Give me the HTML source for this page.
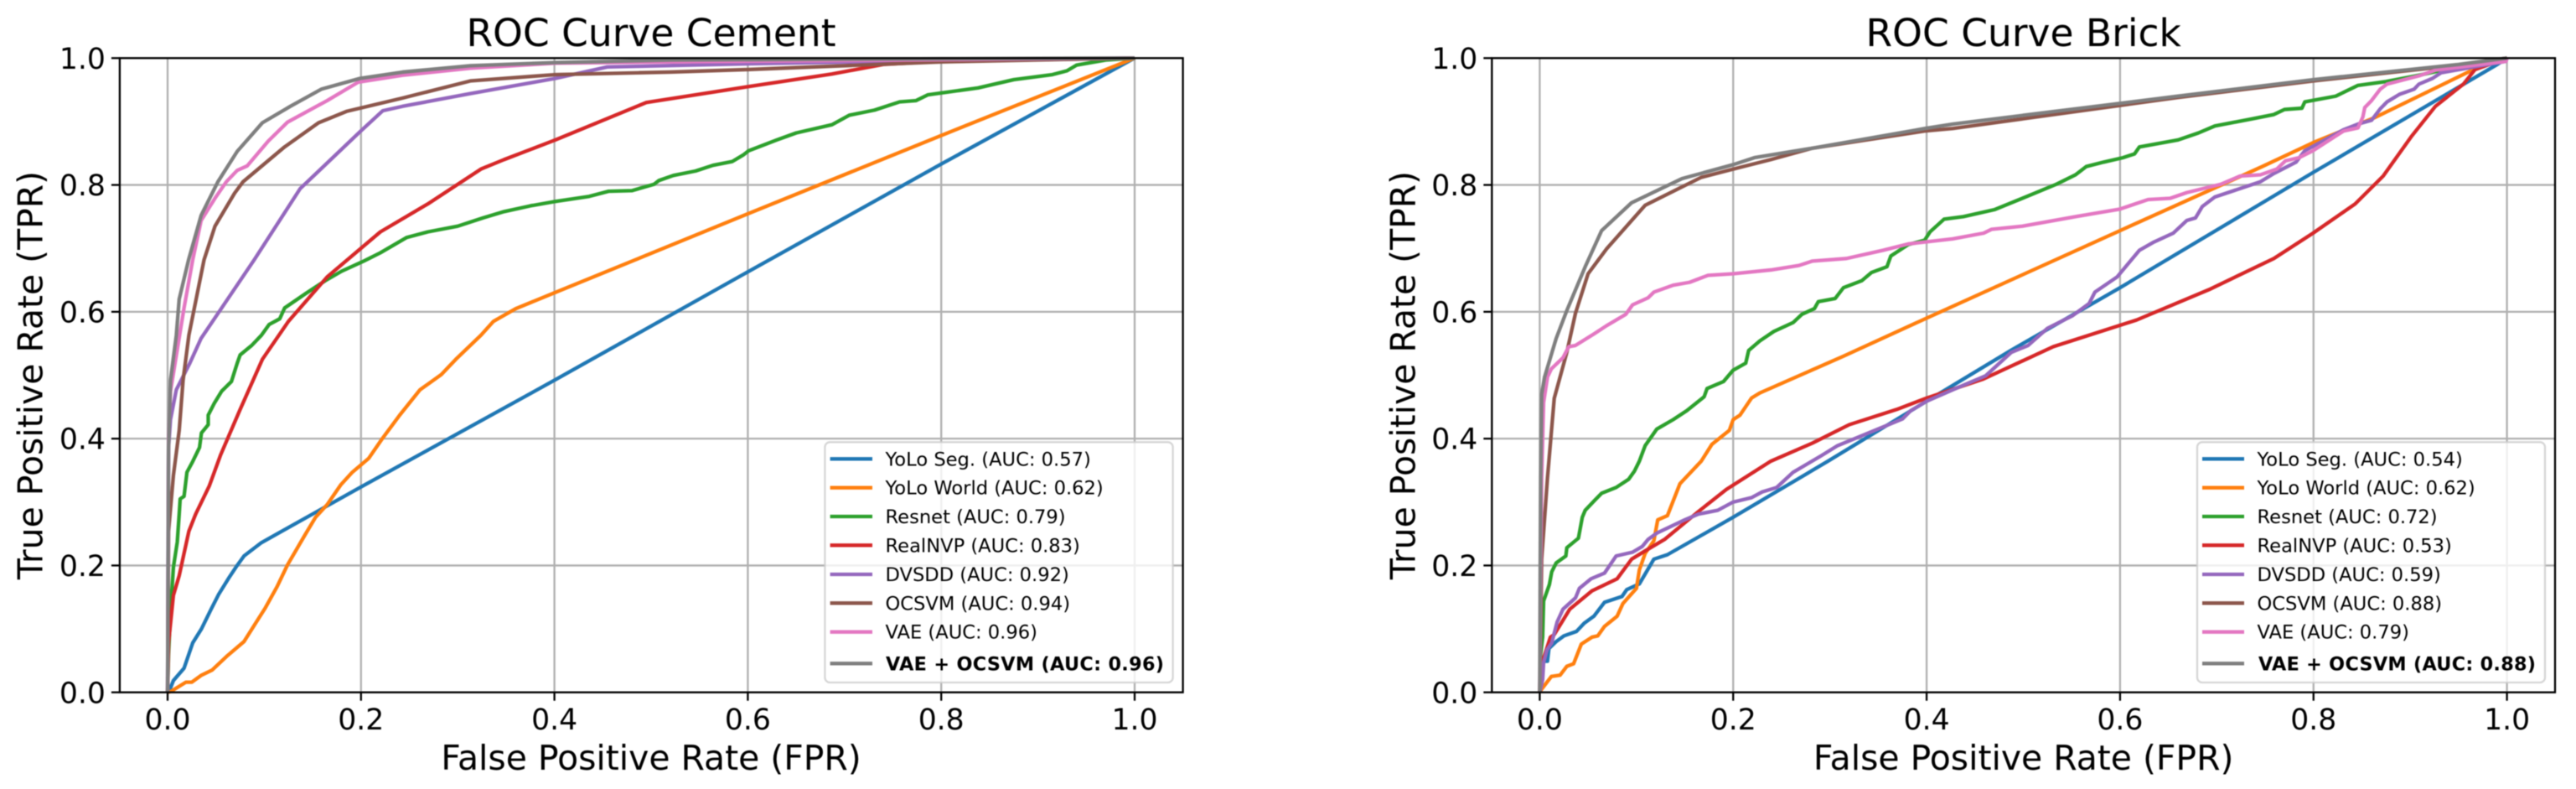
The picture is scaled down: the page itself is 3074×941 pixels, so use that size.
<!DOCTYPE html>
<html lang="en">
<head>
<meta charset="utf-8">
<title>ROC Curves: Cement and Brick</title>
<style>
  html, body { margin: 0; padding: 0; background: #fff; }
  svg { display: block; filter: blur(0.55px); }
  text { font-family: "DejaVu Sans", "Liberation Sans", sans-serif; fill: #000; }
  .title { font-size: 45.5px; text-anchor: middle; }
  .axis-label { font-size: 40.9px; text-anchor: middle; }
  .tick-label { font-size: 34.6px; }
  .legend-text { font-size: 22.6px; }
  .legend-bold { font-size: 22.3px; font-weight: bold; }
  .legend-frame { fill: rgba(255,255,255,0.8); stroke: rgba(204,204,204,0.8); stroke-width: 2.3; }
  .legend-line { stroke-width: 4.3; fill: none; }
</style>
</head>
<body>
<svg id="figure" xmlns="http://www.w3.org/2000/svg" width="3074" height="941" viewBox="0 0 3074 941">
  <rect x="0" y="0" width="3074" height="941" fill="#fff"/>

  <g id="cement-panel">
    <g id="cement-grid"></g>
    <g id="cement-curves"></g>
    <g id="cement-axes"></g>
    <text class="title" x="777" y="55">ROC Curve Cement</text>
    <text class="axis-label" x="777" y="918">False Positive Rate (FPR)</text>
    <text class="axis-label" transform="translate(50.5 447.5) rotate(-90)">True Positive Rate (TPR)</text>
    <g>
      <rect class="legend-frame" x="984.4" y="527.3" width="415.2" height="286.7" rx="6"/>
      <line class="legend-line" x1="990.6" x2="1041" y1="547.3" y2="547.3" stroke="#1f77b4"/>
      <text class="legend-text" x="1056.5" y="555.3">YoLo Seg. (AUC: 0.57)</text>
      <line class="legend-line" x1="990.6" x2="1041" y1="581.7" y2="581.7" stroke="#ff7f0e"/>
      <text class="legend-text" x="1056.5" y="589.7">YoLo World (AUC: 0.62)</text>
      <line class="legend-line" x1="990.6" x2="1041" y1="616" y2="616" stroke="#2ca02c"/>
      <text class="legend-text" x="1056.5" y="624">Resnet (AUC: 0.79)</text>
      <line class="legend-line" x1="990.6" x2="1041" y1="650.3" y2="650.3" stroke="#d62728"/>
      <text class="legend-text" x="1056.5" y="658.3">RealNVP (AUC: 0.83)</text>
      <line class="legend-line" x1="990.6" x2="1041" y1="685" y2="685" stroke="#9467bd"/>
      <text class="legend-text" x="1056.5" y="693">DVSDD (AUC: 0.92)</text>
      <line class="legend-line" x1="990.6" x2="1041" y1="719.3" y2="719.3" stroke="#8c564b"/>
      <text class="legend-text" x="1056.5" y="727.3">OCSVM (AUC: 0.94)</text>
      <line class="legend-line" x1="990.6" x2="1041" y1="753.7" y2="753.7" stroke="#e377c2"/>
      <text class="legend-text" x="1056.5" y="761.7">VAE (AUC: 0.96)</text>
      <line class="legend-line" x1="990.6" x2="1041" y1="791.3" y2="791.3" stroke="#7f7f7f"/>
      <text class="legend-bold" x="1057" y="799.3" textLength="332" lengthAdjust="spacing">VAE + OCSVM (AUC: 0.96)</text>
    </g>
  </g>

  <g id="brick-panel">
    <g id="brick-grid"></g>
    <g id="brick-curves"></g>
    <g id="brick-axes"></g>
    <text class="title" x="2414.7" y="55">ROC Curve Brick</text>
    <text class="axis-label" x="2414.7" y="918">False Positive Rate (FPR)</text>
    <text class="axis-label" transform="translate(1688.5 447.5) rotate(-90)">True Positive Rate (TPR)</text>
    <g>
      <rect class="legend-frame" x="2622" y="527.3" width="415" height="286.7" rx="6"/>
      <line class="legend-line" x1="2628" x2="2678" y1="547.3" y2="547.3" stroke="#1f77b4"/>
      <text class="legend-text" x="2693.5" y="555.3">YoLo Seg. (AUC: 0.54)</text>
      <line class="legend-line" x1="2628" x2="2678" y1="581.7" y2="581.7" stroke="#ff7f0e"/>
      <text class="legend-text" x="2693.5" y="589.7">YoLo World (AUC: 0.62)</text>
      <line class="legend-line" x1="2628" x2="2678" y1="616" y2="616" stroke="#2ca02c"/>
      <text class="legend-text" x="2693.5" y="624">Resnet (AUC: 0.72)</text>
      <line class="legend-line" x1="2628" x2="2678" y1="650.3" y2="650.3" stroke="#d62728"/>
      <text class="legend-text" x="2693.5" y="658.3">RealNVP (AUC: 0.53)</text>
      <line class="legend-line" x1="2628" x2="2678" y1="685" y2="685" stroke="#9467bd"/>
      <text class="legend-text" x="2693.5" y="693">DVSDD (AUC: 0.59)</text>
      <line class="legend-line" x1="2628" x2="2678" y1="719.3" y2="719.3" stroke="#8c564b"/>
      <text class="legend-text" x="2693.5" y="727.3">OCSVM (AUC: 0.88)</text>
      <line class="legend-line" x1="2628" x2="2678" y1="753.7" y2="753.7" stroke="#e377c2"/>
      <text class="legend-text" x="2693.5" y="761.7">VAE (AUC: 0.79)</text>
      <line class="legend-line" x1="2628" x2="2678" y1="791.3" y2="791.3" stroke="#7f7f7f"/>
      <text class="legend-bold" x="2695" y="799.3" textLength="331" lengthAdjust="spacing">VAE + OCSVM (AUC: 0.88)</text>
    </g>
  </g>
</svg>

<script>
// Tick values and labels
const tickValues = [0, 0.2, 0.4, 0.6, 0.8, 1];
const tickLabels = ['0.0', '0.2', '0.4', '0.6', '0.8', '1.0'];

// Method keys, in drawing order
const methods = ['yolo-seg', 'yolo-world', 'resnet', 'realnvp', 'dvsdd', 'ocsvm', 'vae', 'vae-ocsvm'];

// Cement ROC curves: [FPR, TPR]
const cementYoloSeg = [[0,0],[.002,.003],[.006,.0185],[.017,.038],[.026,.078],[.035,.1],[.045,.131],[.053,.155],[.064,.182],[.071,.198],[.079,.215],[.097,.236],[.199,.323],[.4,.492],[.6,.663],[.8,.833],[1,1]];
const cementYoloWorld = [[0,0],[.003,.001],[.019,.016],[.025,.016],[.035,.027],[.046,.035],[.062,.058],[.079,.08],[.091,.109],[.101,.133],[.113,.166],[.124,.201],[.142,.248],[.153,.276],[.165,.296],[.179,.327],[.191,.347],[.208,.369],[.222,.4],[.24,.437],[.261,.477],[.283,.501],[.298,.525],[.324,.563],[.337,.585],[.36,.605],[.3986,.629],[.6,.7545],[.8,.878],[.99,.994],[1,1]];
const cementResnet = [[0,0],[.001,.06],[.003,.126],[.006,.197],[.01,.237],[.012,.281],[.013,.305],[.017,.309],[.02,.347],[.026,.364],[.033,.386],[.035,.409],[.042,.422],[.042,.437],[.048,.455],[.056,.475],[.066,.49],[.072,.519],[.075,.532],[.087,.547],[.097,.563],[.105,.58],[.116,.589],[.121,.606],[.143,.629],[.163,.649],[.18,.664],[.203,.68],[.22,.693],[.247,.717],[.269,.726],[.3,.735],[.326,.748],[.348,.758],[.375,.767],[.401,.774],[.436,.782],[.456,.79],[.48,.791],[.503,.801],[.508,.807],[.523,.815],[.546,.822],[.564,.831],[.584,.837],[.595,.847],[.601,.854],[.63,.871],[.65,.882],[.687,.895],[.705,.91],[.731,.918],[.757,.931],[.774,.933],[.786,.942],[.8,.945],[.838,.953],[.875,.966],[.915,.974],[.93,.98],[.94,.989],[.97,.997],[.99,.999],[1,1]];
const cementRealNvp = [[0,0],[.001,.078],[.006,.153],[.012,.184],[.022,.254],[.029,.281],[.043,.325],[.055,.375],[.075,.446],[.098,.525],[.125,.585],[.165,.655],[.22,.726],[.269,.77],[.324,.825],[.348,.84],[.401,.871],[.495,.93],[.6,.955],[.687,.975],[.74,.99],[.8,.995],[1,1]];
const cementDvsdd = [[0,0],[.0005,.25],[.001,.386],[.003,.43],[.009,.477],[.023,.519],[.0346,.558],[.0896,.682],[.137,.794],[.199,.884],[.2225,.917],[.243,.924],[.313,.944],[.401,.968],[.4546,.986],[.6,.991],[.745,.995],[1,1]];
const cementOcsvm = [[0,0],[.0005,.1],[.001,.254],[.006,.342],[.012,.413],[.016,.492],[.022,.563],[.0377,.682],[.049,.735],[.0693,.787],[.078,.805],[.121,.86],[.156,.898],[.185,.916],[.243,.937],[.313,.964],[.401,.974],[.52,.978],[.6,.982],[.8,.994],[1,1]];
const cementVae = [[0,0],[.0005,.2],[.001,.4],[.003,.4746],[.017,.606],[.026,.682],[.0347,.744],[.049,.779],[.0607,.805],[.072,.823],[.0823,.83],[.104,.869],[.124,.899],[.165,.933],[.197,.962],[.243,.973],[.313,.984],[.401,.992],[.52,.994],[1,1]];
const cementVaeOcsvm = [[0,0],[.0005,.2],[.001,.386],[.003,.492],[.009,.563],[.012,.62],[.0217,.682],[.0347,.752],[.052,.805],[.072,.853],[.098,.898],[.127,.924],[.159,.951],[.199,.968],[.243,.978],[.313,.988],[.401,.993],[.52,.997],[.8,.999],[1,1]];

// Brick ROC curves: [FPR, TPR]
const brickYoloSeg = [[0,0],[.0005,.003],[.002,.049],[.008,.049],[.0095,.069],[.017,.08],[.025,.089],[.038,.096],[.046,.109],[.056,.12],[.067,.142],[.085,.151],[.09,.162],[.103,.171],[.118,.21],[.132,.217],[.2,.276],[.298,.3645],[.4,.459],[.487,.539],[.6,.638],[.8,.82],[.99,.99],[1,1]];
const brickYoloWorld = [[0,0],[.002,.005],[.012,.025],[.021,.027],[.028,.041],[.035,.045],[.043,.076],[.054,.087],[.06,.089],[.067,.104],[.08,.12],[.086,.14],[.1,.164],[.103,.193],[.109,.219],[.118,.239],[.122,.272],[.132,.2785],[.145,.329],[.167,.3645],[.178,.391],[.196,.413],[.2,.43],[.207,.437],[.219,.464],[.2275,.472],[.314,.53],[.4,.59],[.6,.728],[.747,.829],[.8,.867],[.863,.906],[.964,.981],[1,1]];
const brickResnet = [[0,0],[.001,.06],[.003,.087],[.004,.144],[.01,.17],[.0124,.19],[.017,.204],[.027,.215],[.028,.228],[.04,.243],[.044,.276],[.047,.287],[.057,.303],[.064,.314],[.079,.323],[.092,.336],[.098,.349],[.103,.3645],[.109,.389],[.121,.415],[.138,.43],[.152,.444],[.17,.466],[.173,.479],[.19,.49],[.2,.508],[.213,.519],[.216,.539],[.2275,.554],[.242,.569],[.262,.583],[.271,.596],[.284,.605],[.288,.616],[.3055,.621],[.314,.638],[.333,.649],[.343,.662],[.359,.671],[.363,.688],[.381,.706],[.398,.713],[.4035,.726],[.418,.746],[.438,.75],[.47,.761],[.499,.779],[.534,.801],[.554,.816],[.565,.829],[.583,.836],[.603,.843],[.615,.849],[.62,.86],[.66,.871],[.681,.882],[.698,.893],[.736,.904],[.759,.911],[.77,.919],[.788,.921],[.791,.931],[.823,.94],[.846,.957],[.875,.963],[.909,.973],[.955,.988],[.996,.997],[1,1]];
const brickRealNvp = [[0,0],[.001,.02],[.003,.049],[.011,.087],[.015,.091],[.031,.131],[.054,.16],[.08,.179],[.095,.21],[.109,.223],[.129,.241],[.164,.285],[.193,.32],[.239,.3645],[.282,.393],[.32,.422],[.369,.446],[.4,.464],[.4586,.494],[.531,.545],[.617,.587],[.692,.635],[.759,.684],[.7995,.724],[.843,.77],[.872,.814],[.901,.876],[.926,.924],[.955,.959],[.967,.982],[1,1]];
const brickDvsdd = [[0,0],[.003,.02],[.004,.047],[.0075,.067],[.0124,.078],[.018,.111],[.024,.131],[.037,.149],[.041,.164],[.053,.179],[.067,.188],[.079,.215],[.096,.221],[.106,.23],[.112,.241],[.121,.251],[.132,.259],[.15,.272],[.164,.281],[.184,.287],[.2,.3],[.219,.307],[.23,.316],[.245,.323],[.262,.347],[.291,.373],[.308,.389],[.332,.404],[.375,.431],[.3835,.444],[.4,.459],[.43,.479],[.461,.499],[.4875,.536],[.505,.547],[.525,.574],[.551,.594],[.568,.613],[.574,.631],[.597,.655],[.609,.677],[.62,.697],[.635,.71],[.655,.724],[.669,.744],[.678,.748],[.685,.766],[.698,.781],[.745,.805],[.759,.818],[.782,.836],[.791,.854],[.831,.887],[.846,.896],[.86,.902],[.869,.92],[.876,.931],[.889,.943],[.904,.951],[.909,.959],[.923,.968],[.932,.977],[.999,.995],[1,1]];
const brickOcsvm = [[0,0],[.002,.21],[.008,.338],[.015,.4636],[.028,.536],[.037,.598],[.05,.66],[.069,.699],[.109,.768],[.167,.812],[.2,.825],[.239,.84],[.282,.858],[.398,.885],[.427,.889],[.66,.938],[.8,.964],[.95,.989],[1,1]];
const brickVae = [[0,0],[.001,.2],[.002,.338],[.004,.457],[.008,.497],[.012,.51],[.024,.5275],[.03,.545],[.037,.547],[.056,.565],[.069,.578],[.089,.596],[.096,.611],[.112,.622],[.118,.631],[.138,.642],[.155,.6465],[.174,.6575],[.2,.66],[.239,.666],[.268,.673],[.282,.68],[.317,.684],[.355,.697],[.381,.707],[.427,.715],[.459,.724],[.467,.73],[.499,.735],[.554,.75],[.6,.762],[.629,.777],[.652,.779],[.669,.788],[.704,.801],[.724,.814],[.745,.816],[.762,.825],[.771,.838],[.785,.843],[.7995,.854],[.831,.885],[.846,.89],[.851,.907],[.853,.922],[.86,.933],[.869,.951],[.876,.959],[.909,.972],[.926,.981],[.999,.995],[1,1]];
const brickVaeOcsvm = [[0,0],[.0005,.2],[.001,.338],[.002,.47],[.005,.497],[.017,.558],[.028,.602],[.047,.671],[.064,.728],[.095,.772],[.147,.81],[.2,.832],[.222,.843],[.282,.858],[.398,.889],[.427,.896],[.66,.94],[.8,.966],[.95,.99],[1,1]];

const cementCurves = [cementYoloSeg, cementYoloWorld, cementResnet, cementRealNvp, cementDvsdd, cementOcsvm, cementVae, cementVaeOcsvm];
const brickCurves = [brickYoloSeg, brickYoloWorld, brickResnet, brickRealNvp, brickDvsdd, brickOcsvm, brickVae, brickVaeOcsvm];

// Styling and layout
const seriesColors = ['#1f77b4', '#ff7f0e', '#2ca02c', '#d62728', '#9467bd', '#8c564b', '#e377c2', '#7f7f7f'];
const SVG_NS = 'http://www.w3.org/2000/svg';

function makeAxis(domain0Px, domain1Px) {
  return function (v) { return domain0Px + v * (domain1Px - domain0Px); };
}

function addLine(parent, x1, y1, x2, y2, color, width) {
  const el = document.createElementNS(SVG_NS, 'line');
  el.setAttribute('x1', x1);
  el.setAttribute('y1', y1);
  el.setAttribute('x2', x2);
  el.setAttribute('y2', y2);
  el.setAttribute('stroke', color);
  el.setAttribute('stroke-width', width);
  parent.appendChild(el);
  return el;
}

function drawPanel(prefix, curves, left, right, x0, x1) {
  const top = 69.3;
  const bottom = 825.7;
  const xAxis = makeAxis(x0, x1);
  const yAxis = makeAxis(bottom, top);
  const grid = document.getElementById(prefix + '-grid');
  const axes = document.getElementById(prefix + '-axes');
  const curveGroup = document.getElementById(prefix + '-curves');

  tickValues.forEach(function (v, i) {
    const gx = addLine(grid, xAxis(v), top, xAxis(v), bottom, '#b0b0b0', 2.3);
    
    

    const gy = addLine(grid, left, yAxis(v), right, yAxis(v), '#b0b0b0', 2.3);
    
    

    const tx = addLine(axes, xAxis(v), bottom, xAxis(v), bottom + 10, '#000', 2.3);
    
    

    const ty = addLine(axes, left - 10, yAxis(v), left, yAxis(v), '#000', 2.3);
    
    

    const lx = document.createElementNS(SVG_NS, 'text');
    lx.setAttribute('class', 'tick-label');
    lx.setAttribute('x', xAxis(v));
    lx.setAttribute('y', 870);
    lx.setAttribute('text-anchor', 'middle');
    
    
    lx.textContent = tickLabels[i];
    axes.appendChild(lx);

    const ly = document.createElementNS(SVG_NS, 'text');
    ly.setAttribute('class', 'tick-label');
    ly.setAttribute('x', left - 17);
    ly.setAttribute('y', yAxis(v) + 12.6);
    ly.setAttribute('text-anchor', 'end');
    
    
    ly.textContent = tickLabels[i];
    axes.appendChild(ly);
  });

  curves.forEach(function (points, i) {
    const path = document.createElementNS(SVG_NS, 'path');
    const d = points.map(function (p, j) {
      return (j === 0 ? 'M' : 'L') + xAxis(p[0]).toFixed(2) + ' ' + yAxis(p[1]).toFixed(2);
    }).join(' ');
    path.setAttribute('d', d);
    path.setAttribute('fill', 'none');
    path.setAttribute('stroke', seriesColors[i]);
    path.setAttribute('stroke-width', 4.3);
    path.setAttribute('stroke-linejoin', 'round');
    
    
    curveGroup.appendChild(path);
  });

  const spine = document.createElementNS(SVG_NS, 'rect');
  spine.setAttribute('x', left);
  spine.setAttribute('y', top);
  spine.setAttribute('width', right - left);
  spine.setAttribute('height', bottom - top);
  spine.setAttribute('fill', 'none');
  spine.setAttribute('stroke', '#000');
  spine.setAttribute('stroke-width', 2.3);
  
  
  axes.appendChild(spine);
}

drawPanel('cement', cementCurves, 142.9, 1411.6, 200, 1354);
drawPanel('brick', brickCurves, 1780.3, 3049, 1837.4, 2991.6);
</script>
</body>
</html>
